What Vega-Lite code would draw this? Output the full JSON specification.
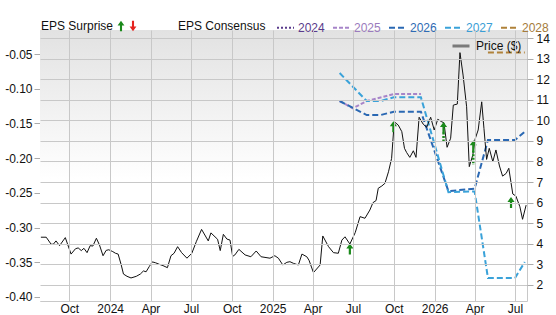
{
  "$schema": "https://vega.github.io/schema/vega-lite/v6.json",
  "width": 487,
  "height": 271,
  "autosize": {"type": "none"},
  "padding": {"left": 40, "top": 30, "right": 29, "bottom": 14},
  "background": "white",
  "config": {
    "font": "Liberation Sans",
    "view": {"stroke": "#c8c8c8", "strokeWidth": 1},
    "axis": {"labelFont": "Liberation Sans", "labelFontSize": 12, "labelColor": "#111", "titleFont": "Liberation Sans"},
    "legend": {"labelFont": "Liberation Sans", "titleFont": "Liberation Sans", "labelFontSize": 12, "titleFontSize": 12, "titleFontWeight": "normal", "titleColor": "#111", "labelColor": "#111", "padding": 0}
  },
  "resolve": {"scale": {"y": "independent", "color": "independent", "shape": "independent", "strokeDash": "independent"}},
  "layer": [
    {
      "data": {"values": [{}]},
      "mark": {"type": "rect", "fill": {"gradient": "linear", "x1": 0, "y1": 0, "x2": 0, "y2": 1, "stops": [{"offset": 0, "color": "#e2e2e2"}, {"offset": 0.55, "color": "#ffffff"}, {"offset": 1, "color": "#ffffff"}]}, "strokeWidth": 0},
      "encoding": {
        "x": {"value": 0},
        "x2": {"value": "width"},
        "y": {"value": 0},
        "y2": {"value": "height"}
      }
    },
    {
      "data": {"values": [
        {"year": "2025", "date": "2025-06-01", "eps": -0.1177},
        {"year": "2025", "date": "2025-07-01", "eps": -0.1282},
        {"year": "2025", "date": "2025-08-01", "eps": -0.1177},
        {"year": "2025", "date": "2025-10-01", "eps": -0.1076},
        {"year": "2025", "date": "2025-12-01", "eps": -0.1076},
        {"year": "2026", "date": "2025-06-01", "eps": -0.1177},
        {"year": "2026", "date": "2025-08-01", "eps": -0.1379},
        {"year": "2026", "date": "2025-09-01", "eps": -0.1379},
        {"year": "2026", "date": "2025-10-01", "eps": -0.1331},
        {"year": "2026", "date": "2025-12-01", "eps": -0.1331},
        {"year": "2026", "date": "2026-02-01", "eps": -0.2475},
        {"year": "2026", "date": "2026-04-01", "eps": -0.2440},
        {"year": "2026", "date": "2026-05-01", "eps": -0.1739},
        {"year": "2026", "date": "2026-07-01", "eps": -0.1739},
        {"year": "2026", "date": "2026-07-23", "eps": -0.1619},
        {"year": "2027", "date": "2025-06-01", "eps": -0.0774},
        {"year": "2027", "date": "2025-08-01", "eps": -0.1177},
        {"year": "2027", "date": "2025-09-01", "eps": -0.1177},
        {"year": "2027", "date": "2025-10-01", "eps": -0.1124},
        {"year": "2027", "date": "2025-12-01", "eps": -0.1124},
        {"year": "2027", "date": "2026-02-01", "eps": -0.2490},
        {"year": "2027", "date": "2026-04-01", "eps": -0.2480},
        {"year": "2027", "date": "2026-05-01", "eps": -0.3727},
        {"year": "2027", "date": "2026-07-01", "eps": -0.3727},
        {"year": "2027", "date": "2026-07-23", "eps": -0.3496},
        {"year": "2028", "date": "2026-05-01", "eps": -0.0478},
        {"year": "2028", "date": "2026-06-01", "eps": -0.0478},
        {"year": "2028", "date": "2026-07-01", "eps": -0.0478},
        {"year": "2028", "date": "2026-07-23", "eps": -0.0478}
      ]},
      "mark": {"type": "line", "strokeWidth": 2, "clip": true},
      "encoding": {
        "x": {
          "field": "date", "type": "temporal",
          "scale": {"type": "utc", "domain": [{"year": 2023, "month": 7, "date": 27, "utc": true}, {"year": 2026, "month": 7, "date": 28, "utc": true}]},
          "axis": {"orient": "bottom", "title": null, "grid": true, "gridColor": "#c8c8c8", "ticks": false, "domain": false, "tickCount": {"interval": "month", "step": 3}, "labelExpr": "utcmonth(datum.value) == 0 ? utcFormat(datum.value, '%Y') : utcFormat(datum.value, '%b')", "labelPadding": 2, "labelFlush": false, "labelOverlap": false, "zindex": 1}
        },
        "y": {
          "field": "eps", "type": "quantitative",
          "scale": {"domain": [-0.4058, -0.0154], "nice": false, "zero": false},
          "axis": {"orient": "left", "title": null, "grid": false, "domain": false, "values": [-0.4, -0.35, -0.3, -0.25, -0.2, -0.15, -0.1, -0.05], "labelExpr": "(datum.value < 0 ? '-' : '') + format(abs(datum.value), '.2f')", "tickSize": 6, "tickColor": "#aaaaaa", "labelPadding": 2}
        },
        "color": {
          "field": "year", "type": "nominal",
          "scale": {"domain": ["2024", "2025", "2026", "2027", "2028"], "range": ["#5a3b8c", "#a785c9", "#2a68b3", "#3aa2d9", "#b0823a"]},
          "legend": {"title": "EPS Consensus", "orient": "none", "legendX": 138, "legendY": -12, "direction": "horizontal", "titleOrient": "left", "titlePadding": 10, "labelOffset": 3, "columnPadding": 4, "symbolType": "stroke", "symbolSize": 289, "symbolStrokeWidth": 2, "encode": {"labels": {"update": {"fill": {"signal": "datum.value === '2024' ? '#5a3b8c' : datum.value === '2025' ? '#9b7bbd' : datum.value === '2026' ? '#2e6bb4' : datum.value === '2027' ? '#3a9ed6' : '#a57b3b'"}}}}}
        },
        "strokeDash": {
          "field": "year", "type": "nominal",
          "scale": {"domain": ["2024", "2025", "2026", "2027", "2028"], "range": [[2, 2], [4, 2], [6, 3], [6, 3], [6, 3]]},
          "legend": {"title": "EPS Consensus", "orient": "none", "legendX": 138, "legendY": -12, "direction": "horizontal", "titleOrient": "left", "titlePadding": 10, "labelOffset": 3, "columnPadding": 4, "symbolType": "stroke", "symbolSize": 289, "symbolStrokeWidth": 2, "encode": {"labels": {"update": {"fill": {"signal": "datum.value === '2024' ? '#5a3b8c' : datum.value === '2025' ? '#9b7bbd' : datum.value === '2026' ? '#2e6bb4' : datum.value === '2027' ? '#3a9ed6' : '#a57b3b'"}}}}}
        }
      }
    },
    {
      "data": {"values": [
        {"date": "2023-07-29", "price": 4.32}, {"date": "2023-08-10", "price": 4.32}, {"date": "2023-08-21", "price": 3.98}, {"date": "2023-08-26", "price": 3.98},
        {"date": "2023-09-01", "price": 4.14}, {"date": "2023-09-09", "price": 3.91}, {"date": "2023-09-22", "price": 4.30}, {"date": "2023-10-05", "price": 3.50},
        {"date": "2023-10-15", "price": 3.76}, {"date": "2023-10-21", "price": 3.80}, {"date": "2023-10-28", "price": 3.67}, {"date": "2023-11-03", "price": 3.78},
        {"date": "2023-11-10", "price": 3.57}, {"date": "2023-11-17", "price": 3.91}, {"date": "2023-11-23", "price": 3.89}, {"date": "2023-12-01", "price": 4.27},
        {"date": "2023-12-08", "price": 3.94}, {"date": "2023-12-16", "price": 3.42}, {"date": "2023-12-23", "price": 3.68}, {"date": "2023-12-29", "price": 3.71},
        {"date": "2024-01-07", "price": 3.62}, {"date": "2024-01-13", "price": 3.54}, {"date": "2024-01-19", "price": 3.50}, {"date": "2024-01-26", "price": 2.97},
        {"date": "2024-01-31", "price": 2.53}, {"date": "2024-02-08", "price": 2.42}, {"date": "2024-02-17", "price": 2.34}, {"date": "2024-02-29", "price": 2.42},
        {"date": "2024-03-09", "price": 2.53}, {"date": "2024-03-16", "price": 2.68}, {"date": "2024-03-22", "price": 2.64}, {"date": "2024-03-29", "price": 2.89},
        {"date": "2024-04-05", "price": 3.12}, {"date": "2024-04-12", "price": 3.08}, {"date": "2024-04-21", "price": 3.00}, {"date": "2024-04-29", "price": 2.94},
        {"date": "2024-05-09", "price": 2.84}, {"date": "2024-05-17", "price": 3.42}, {"date": "2024-05-24", "price": 3.54}, {"date": "2024-06-01", "price": 3.86},
        {"date": "2024-06-10", "price": 3.57}, {"date": "2024-06-22", "price": 3.30}, {"date": "2024-07-03", "price": 3.54}, {"date": "2024-07-13", "price": 4.10},
        {"date": "2024-07-25", "price": 4.70}, {"date": "2024-08-09", "price": 4.14}, {"date": "2024-08-15", "price": 4.53}, {"date": "2024-08-30", "price": 4.22},
        {"date": "2024-09-05", "price": 3.67}, {"date": "2024-09-12", "price": 4.46}, {"date": "2024-09-20", "price": 4.23}, {"date": "2024-09-27", "price": 4.18},
        {"date": "2024-10-03", "price": 3.39}, {"date": "2024-10-08", "price": 3.46}, {"date": "2024-10-17", "price": 3.73}, {"date": "2024-10-31", "price": 3.46},
        {"date": "2024-11-13", "price": 3.37}, {"date": "2024-11-25", "price": 3.65}, {"date": "2024-12-06", "price": 3.37}, {"date": "2024-12-26", "price": 3.30},
        {"date": "2025-01-06", "price": 3.42}, {"date": "2025-01-14", "price": 3.30}, {"date": "2025-01-24", "price": 2.97}, {"date": "2025-02-02", "price": 3.10},
        {"date": "2025-02-09", "price": 3.13}, {"date": "2025-02-17", "price": 3.05}, {"date": "2025-02-28", "price": 2.97}, {"date": "2025-03-08", "price": 3.50},
        {"date": "2025-03-19", "price": 3.37}, {"date": "2025-03-24", "price": 3.20}, {"date": "2025-04-03", "price": 2.60}, {"date": "2025-04-18", "price": 2.97},
        {"date": "2025-04-24", "price": 4.38}, {"date": "2025-05-07", "price": 3.86}, {"date": "2025-05-18", "price": 3.57}, {"date": "2025-05-29", "price": 3.54},
        {"date": "2025-06-06", "price": 4.18}, {"date": "2025-06-13", "price": 4.34}, {"date": "2025-06-24", "price": 3.99}, {"date": "2025-07-06", "price": 4.54},
        {"date": "2025-07-17", "price": 5.32}, {"date": "2025-07-28", "price": 5.24}, {"date": "2025-08-08", "price": 5.64}, {"date": "2025-08-15", "price": 6.00},
        {"date": "2025-08-22", "price": 6.10}, {"date": "2025-08-27", "price": 6.70}, {"date": "2025-09-04", "price": 6.81}, {"date": "2025-09-11", "price": 6.94},
        {"date": "2025-09-19", "price": 7.50}, {"date": "2025-09-26", "price": 8.15}, {"date": "2025-10-02", "price": 9.93}, {"date": "2025-10-11", "price": 9.77},
        {"date": "2025-10-19", "price": 9.45}, {"date": "2025-10-25", "price": 8.64}, {"date": "2025-10-30", "price": 8.43}, {"date": "2025-11-06", "price": 8.20},
        {"date": "2025-11-14", "price": 8.52}, {"date": "2025-11-20", "price": 8.20}, {"date": "2025-11-27", "price": 10.15}, {"date": "2025-12-06", "price": 9.82},
        {"date": "2025-12-14", "price": 9.66}, {"date": "2025-12-23", "price": 10.15}, {"date": "2025-12-31", "price": 9.53}, {"date": "2026-01-08", "price": 10.05},
        {"date": "2026-01-17", "price": 9.93}, {"date": "2026-01-22", "price": 9.88}, {"date": "2026-01-29", "price": 8.69}, {"date": "2026-02-06", "price": 9.13},
        {"date": "2026-02-12", "price": 10.74}, {"date": "2026-02-21", "price": 10.79}, {"date": "2026-02-27", "price": 13.29}, {"date": "2026-03-06", "price": 12.20},
        {"date": "2026-03-14", "price": 10.66}, {"date": "2026-03-20", "price": 7.75}, {"date": "2026-03-28", "price": 8.32}, {"date": "2026-04-02", "price": 9.08},
        {"date": "2026-04-09", "price": 9.53}, {"date": "2026-04-17", "price": 10.90}, {"date": "2026-04-22", "price": 9.61}, {"date": "2026-04-28", "price": 8.10},
        {"date": "2026-05-04", "price": 8.64}, {"date": "2026-05-12", "price": 7.99}, {"date": "2026-05-19", "price": 8.56}, {"date": "2026-05-27", "price": 7.78},
        {"date": "2026-06-03", "price": 7.29}, {"date": "2026-06-11", "price": 7.42}, {"date": "2026-06-17", "price": 7.67}, {"date": "2026-06-26", "price": 6.42},
        {"date": "2026-07-03", "price": 6.32}, {"date": "2026-07-12", "price": 5.80}, {"date": "2026-07-18", "price": 5.19}, {"date": "2026-07-26", "price": 5.88}
      ]},
      "mark": {"type": "line", "strokeWidth": 1, "clip": true},
      "encoding": {
        "x": {"field": "date", "type": "temporal", "scale": {"type": "utc", "domain": [{"year": 2023, "month": 7, "date": 27, "utc": true}, {"year": 2026, "month": 7, "date": 28, "utc": true}]}},
        "y": {
          "field": "price", "type": "quantitative",
          "scale": {"domain": [1.22, 14.39], "nice": false, "zero": false},
          "axis": {"orient": "right", "title": null, "grid": true, "gridColor": "#c8c8c8", "domain": false, "values": [2, 3, 4, 5, 6, 7, 8, 9, 10, 11, 12, 13, 14], "tickSize": 6, "tickColor": "#aaaaaa", "labelPadding": 3, "zindex": 1}
        },
        "color": {
          "datum": "Price ($)", "type": "nominal",
          "scale": {"domain": ["Price ($)"], "range": ["#111111"]},
          "legend": {"title": null, "orient": "none", "legendX": 411, "legendY": 6, "symbolType": "stroke", "symbolSize": 289, "symbolStrokeWidth": 3, "symbolOpacity": 0.5, "symbolStrokeColor": "#7a7a7a", "labelOffset": 5}
        }
      }
    },
    {
      "data": {"values": [
        {"date": "2026-01-21", "top": 9.41, "base": 8.96},
        {"date": "2026-03-29", "top": 8.52, "base": 7.83}
      ]},
      "mark": {"type": "rule", "color": "#1b8a1b", "strokeWidth": 2.5, "strokeDash": [2, 1.5]},
      "encoding": {
        "x": {"field": "date", "type": "temporal", "scale": {"type": "utc", "domain": [{"year": 2023, "month": 7, "date": 27, "utc": true}, {"year": 2026, "month": 7, "date": 28, "utc": true}]}},
        "y": {"field": "top", "type": "quantitative", "scale": {"domain": [1.22, 14.39], "nice": false, "zero": false}, "axis": null},
        "y2": {"field": "base"}
      }
    },
    {
      "data": {"values": [
        {"date": "2025-06-24", "price": 3.75, "dir": "up"},
        {"date": "2025-09-30", "price": 9.69, "dir": "up"},
        {"date": "2026-01-21", "price": 9.65, "dir": "up"},
        {"date": "2026-03-29", "price": 8.76, "dir": "up"},
        {"date": "2026-06-22", "price": 6.01, "dir": "up"}
      ]},
      "mark": {"type": "point", "filled": true, "size": 121, "opacity": 1, "strokeWidth": 0},
      "encoding": {
        "x": {"field": "date", "type": "temporal", "scale": {"type": "utc", "domain": [{"year": 2023, "month": 7, "date": 27, "utc": true}, {"year": 2026, "month": 7, "date": 28, "utc": true}]}},
        "y": {"field": "price", "type": "quantitative", "scale": {"domain": [1.22, 14.39], "nice": false, "zero": false}, "axis": null},
        "color": {
          "field": "dir", "type": "nominal",
          "scale": {"domain": ["up", "down"], "range": ["#1b8a1b", "#e5231f"]},
          "legend": {"title": "EPS Surprise", "orient": "none", "legendX": 1, "legendY": -10, "direction": "horizontal", "titleOrient": "left", "titlePadding": 1, "labelExpr": "''", "labelOffset": 0, "columnPadding": 0, "symbolSize": 110, "symbolStrokeWidth": 0}
        },
        "shape": {
          "field": "dir", "type": "nominal",
          "scale": {"domain": ["up", "down"], "range": ["M0,-1L0.65,-0.1L0.2,-0.1L0.2,1L-0.2,1L-0.2,-0.1L-0.65,-0.1Z", "M0,1L0.65,0.1L0.2,0.1L0.2,-1L-0.2,-1L-0.2,0.1L-0.65,0.1Z"]},
          "legend": {"title": "EPS Surprise", "orient": "none", "legendX": 1, "legendY": -10, "direction": "horizontal", "titleOrient": "left", "titlePadding": 1, "labelExpr": "''", "labelOffset": 0, "columnPadding": 0, "symbolSize": 110, "symbolStrokeWidth": 0}
        }
      }
    }
  ]
}
